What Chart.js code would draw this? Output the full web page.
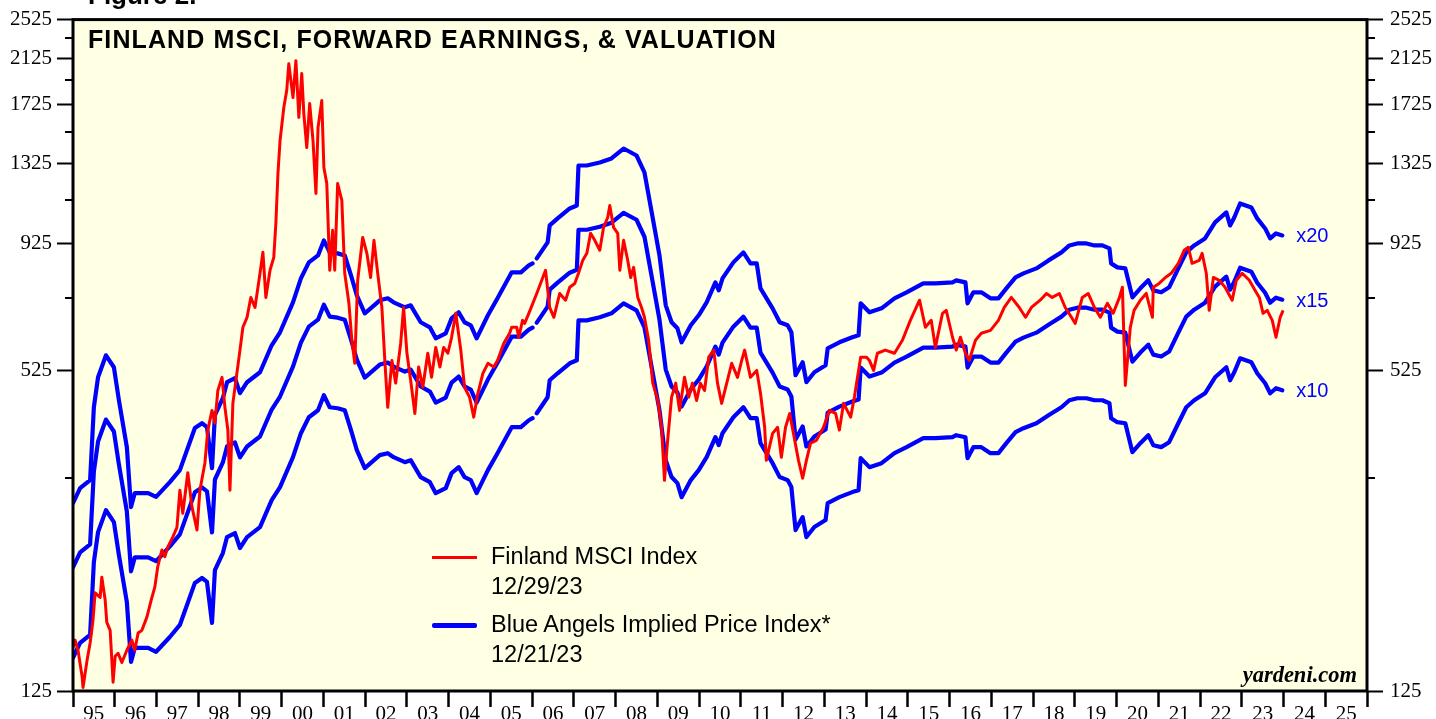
<!DOCTYPE html>
<html>
<head>
<meta charset="utf-8">
<title>Finland MSCI, Forward Earnings, & Valuation</title>
<script src="https://cdn.jsdelivr.net/npm/chart.js@4.4.1/dist/chart.umd.min.js"></script>
<style>
    html, body { margin: 0; padding: 0; background: #fff; overflow: hidden; }
    #wrap { position: relative; width: 1436px; height: 719px; }
    #chart { position: absolute; left: 0; top: 0; }
    .txt { position: absolute; font-family: 'Liberation Sans', Arial, sans-serif; color: #000; white-space: nowrap; line-height: 1; }
    #figure { left: 88px; top: -18px; font-size: 26px; font-weight: bold; }
    #title { left: 88px; top: 27px; font-size: 25px; font-weight: bold; letter-spacing: 1.1px; }
    .legend-line { position: absolute; left: 432px; width: 45px; }
    #legRed { top: 556px; height: 3px; background: #ff0000; }
    #legBlue { top: 623px; height: 5px; background: #0000ff; border-radius: 2px; }
    .legend-text { left: 491px; font-size: 23.5px; line-height: 29.5px; }
    #legRedText { top: 542px; }
    #legBlueText { top: 610px; }
    .tag { font-size: 20px; color: #0000ff; }
    #yardeni { right: 79px; top: 664px; font-family: 'Liberation Serif', 'Times New Roman', serif; font-size: 22.5px; font-weight: bold; font-style: italic; }
</style>
</head>
<body>
<div id="wrap">
    <canvas id="chart" width="1436" height="719"></canvas>
    <div class="txt" id="figure">Figure 2.</div>
    <div class="txt" id="title">FINLAND MSCI, FORWARD EARNINGS, &amp; VALUATION</div>
    <div class="legend-line" id="legRed"></div>
    <div class="txt legend-text" id="legRedText">Finland MSCI Index<br>12/29/23</div>
    <div class="legend-line" id="legBlue"></div>
    <div class="txt legend-text" id="legBlueText">Blue Angels Implied Price Index*<br>12/21/23</div>
    <div class="txt tag" id="tag20">x20</div>
    <div class="txt tag" id="tag15">x15</div>
    <div class="txt tag" id="tag10">x10</div>
    <div class="txt" id="yardeni">yardeni.com</div>
</div>
<script>
// ═══════════════════════════════════════════════════════════════
// Finland MSCI — forward earnings & valuation (log scale)
// ═══════════════════════════════════════════════════════════════

// ── Finland MSCI index (decimal years / index level) ─────────
const msciYears = [
    1995.00, 1995.05, 1995.12, 1995.22, 1995.24, 1995.34, 1995.41, 1995.48, 1995.53, 1995.65,
    1995.69, 1995.77, 1995.81, 1995.89, 1995.96, 1996.01, 1996.08, 1996.17, 1996.29, 1996.41,
    1996.48, 1996.56, 1996.65, 1996.77, 1996.89, 1996.96, 1997.03, 1997.13, 1997.20, 1997.27,
    1997.39, 1997.49, 1997.56, 1997.63, 1997.75, 1997.85, 1997.97, 1998.04, 1998.16, 1998.23,
    1998.33, 1998.40, 1998.47, 1998.57, 1998.64, 1998.71, 1998.76, 1998.83, 1999.00, 1999.07,
    1999.17, 1999.26, 1999.36, 1999.48, 1999.55, 1999.62, 1999.72, 1999.81, 1999.86, 1999.91,
    1999.96, 2000.05, 2000.12, 2000.17, 2000.27, 2000.34, 2000.41, 2000.48, 2000.53, 2000.60,
    2000.67, 2000.75, 2000.82, 2000.87, 2000.96, 2001.01, 2001.08, 2001.15, 2001.22, 2001.27,
    2001.34, 2001.44, 2001.51, 2001.61, 2001.68, 2001.75, 2001.82, 2001.94, 2002.04, 2002.13,
    2002.21, 2002.30, 2002.40, 2002.47, 2002.54, 2002.64, 2002.73, 2002.85, 2002.92, 2003.00,
    2003.09, 2003.19, 2003.28, 2003.38, 2003.50, 2003.59, 2003.69, 2003.79, 2003.88, 2003.98,
    2004.07, 2004.17, 2004.29, 2004.38, 2004.50, 2004.60, 2004.70, 2004.82, 2004.94, 2005.08,
    2005.17, 2005.32, 2005.46, 2005.51, 2005.63, 2005.68, 2005.77, 2005.82, 2005.92, 2006.11,
    2006.23, 2006.32, 2006.42, 2006.52, 2006.66, 2006.80, 2006.90, 2007.02, 2007.11, 2007.21,
    2007.31, 2007.40, 2007.50, 2007.62, 2007.71, 2007.81, 2007.86, 2007.95, 2008.05, 2008.10,
    2008.19, 2008.29, 2008.36, 2008.43, 2008.53, 2008.62, 2008.69, 2008.79, 2008.89, 2009.01,
    2009.10, 2009.17, 2009.24, 2009.34, 2009.44, 2009.53, 2009.65, 2009.75, 2009.84, 2009.94,
    2010.03, 2010.13, 2010.23, 2010.35, 2010.44, 2010.54, 2010.78, 2010.92, 2011.02, 2011.09,
    2011.23, 2011.38, 2011.47, 2011.57, 2011.61, 2011.76, 2011.88, 2011.97, 2012.07, 2012.17,
    2012.26, 2012.38, 2012.48, 2012.57, 2012.67, 2012.81, 2012.98, 2013.12, 2013.27, 2013.36,
    2013.46, 2013.63, 2013.72, 2013.87, 2014.01, 2014.08, 2014.18, 2014.27, 2014.46, 2014.68,
    2014.87, 2015.06, 2015.28, 2015.42, 2015.56, 2015.66, 2015.83, 2015.92, 2016.07, 2016.16,
    2016.26, 2016.38, 2016.47, 2016.62, 2016.76, 2016.98, 2017.17, 2017.31, 2017.48, 2017.67,
    2017.82, 2017.96, 2018.17, 2018.32, 2018.46, 2018.63, 2018.77, 2018.92, 2019.01, 2019.18,
    2019.32, 2019.47, 2019.61, 2019.78, 2019.92, 2020.07, 2020.14, 2020.21, 2020.33, 2020.42,
    2020.57, 2020.71, 2020.86, 2020.88, 2021.02, 2021.17, 2021.31, 2021.48, 2021.62, 2021.72,
    2021.81, 2021.98, 2022.05, 2022.15, 2022.22, 2022.32, 2022.46, 2022.60, 2022.77, 2022.87,
    2023.01, 2023.18, 2023.32, 2023.42, 2023.51, 2023.61, 2023.73, 2023.82, 2023.92, 2023.99
];
const msciValues = [
    152, 157, 150, 133, 127, 144, 155, 172, 194, 190,
    208, 188, 170, 164, 130, 146, 148, 142, 150, 157,
    150, 162, 164, 174, 190, 199, 218, 235, 228, 238,
    249, 260, 307, 277, 332, 285, 257, 307, 347, 402,
    439, 415, 480, 509, 445, 402, 307, 453, 575, 637,
    666, 728, 696, 811, 891, 728, 822, 871, 1014, 1268,
    1469, 1703, 1838, 2073, 1781, 2101, 1629, 1983, 1658, 1424,
    1734, 1469, 1159, 1557, 1757, 1302, 1212, 822, 983, 822,
    1212, 1124, 811, 709, 601, 542, 786, 952, 887, 796,
    940, 811, 696, 549, 445, 549, 496, 593, 696, 567,
    502, 433, 533, 487, 567, 509, 582, 533, 582, 567,
    609, 678, 575, 487, 466, 426, 474, 518, 542, 533,
    549, 593, 620, 637, 637, 609, 657, 648, 678, 741,
    786, 822, 696, 666, 741, 719, 762, 775, 811, 859,
    887, 970, 940, 899, 996, 1041, 1099, 996, 970, 822,
    940, 859, 796, 833, 728, 696, 666, 601, 496, 459,
    407, 321, 379, 466, 496, 439, 509, 466, 496, 459,
    496, 480, 557, 575, 496, 453, 542, 509, 549, 575,
    509, 525, 474, 407, 351, 396, 407, 356, 407, 433,
    396, 351, 324, 351, 379, 384, 407, 439, 433, 402,
    453, 426, 466, 557, 557, 549, 525, 567, 575, 567,
    601, 657, 719, 637, 657, 582, 678, 687, 609, 575,
    609, 567, 549, 601, 620, 628, 657, 696, 728, 696,
    666, 696, 719, 741, 728, 741, 696, 666, 648, 728,
    741, 696, 666, 709, 678, 728, 762, 491, 637, 687,
    719, 741, 666, 762, 775, 796, 811, 848, 899, 911,
    848, 859, 887, 811, 687, 796, 786, 762, 719, 786,
    811, 786, 751, 728, 678, 687, 657, 609, 666, 687
];

// ── Forward earnings (null = gap in the weekly series) ───────
const feYears = [
    1995.00, 1995.17, 1995.41, 1995.50, 1995.60, 1995.79, 1995.98, 1996.10, 1996.29, 1996.39,
    1996.48, 1996.80, 1996.99, 1997.32, 1997.56, 1997.92, 1998.09, 1998.21, 1998.33, 1998.40,
    1998.59, 1998.69, 1998.88, 1999.00, 1999.17, 1999.48, 1999.76, 1999.96, 2000.27, 2000.46,
    2000.65, 2000.87, 2001.01, 2001.15, 2001.34, 2001.51, 2001.66, 2001.80, 2001.99, 2002.13,
    2002.35, 2002.54, 2002.68, 2002.95, 2003.09, 2003.33, 2003.55, 2003.69, 2003.93, 2004.07,
    2004.24, 2004.38, 2004.53, 2004.67, 2004.94, 2005.17, 2005.51, 2005.73, 2005.92, 2006.01,
    2006.06, 2006.11, 2006.37, 2006.42, 2006.61, 2006.90, 2007.07, 2007.11, 2007.31, 2007.62,
    2007.90, 2008.19, 2008.50, 2008.69, 2008.89, 2009.05, 2009.20, 2009.34, 2009.48, 2009.58,
    2009.80, 2009.99, 2010.18, 2010.39, 2010.47, 2010.56, 2010.82, 2011.06, 2011.23, 2011.38,
    2011.47, 2011.76, 2011.93, 2012.12, 2012.21, 2012.31, 2012.48, 2012.57, 2012.76, 2013.03,
    2013.08, 2013.36, 2013.67, 2013.82, 2013.87, 2014.08, 2014.37, 2014.68, 2014.97, 2015.37,
    2015.66, 2016.07, 2016.16, 2016.38, 2016.43, 2016.57, 2016.76, 2016.98, 2017.17, 2017.36,
    2017.58, 2017.77, 2018.08, 2018.37, 2018.68, 2018.87, 2019.06, 2019.28, 2019.47, 2019.66,
    2019.83, 2019.87, 2020.02, 2020.21, 2020.38, 2020.57, 2020.76, 2020.88, 2021.07, 2021.26,
    2021.48, 2021.67, 2021.86, 2022.12, 2022.36, 2022.63, 2022.72, 2022.82, 2022.96, 2023.23,
    2023.37, 2023.56, 2023.68, 2023.82, 2023.97
];
const feValues = [
    14.50, 15.50, 16.07, 22.27, 25.46, 28.09, 26.63, 22.97, 18.62, 14.24,
    15.16, 15.16, 14.90, 15.92, 16.80, 20.28, 20.73, 20.37, 16.95, 21.48,
    23.18, 24.90, 25.35, 23.71, 24.90, 26.04, 29.38, 31.14, 35.61, 39.64,
    42.58, 43.93, 46.98, 44.53, 44.33, 43.93, 40.18, 36.74, 33.90, 34.66,
    35.93, 36.25, 35.61, 34.82, 35.13, 32.57, 31.84, 30.31, 31.00, 33.15,
    34.05, 32.57, 32.13, 30.31, 33.60, 36.25, 40.72, 40.72, 42.01, 42.39,
    null,  43.34, 46.56, 50.24, 51.84, 54.21, 54.94, 65.70, 65.70, 66.59,
    67.80, 70.89, 68.71, 63.68, 51.84, 43.93, 35.13, 32.57, 31.70, 29.77,
    32.13, 33.60, 35.61, 38.94, 37.57, 39.64, 42.58, 44.53, 42.39, 42.39,
    37.91, 34.66, 32.57, 32.13, 31.14, 25.69, 27.23, 24.90, 26.04, 26.87,
    28.99, 29.77, 30.45, 30.72, 35.45, 34.05, 34.66, 36.25, 37.24, 38.77,
    38.77, 38.94, 39.29, 38.94, 35.45, 37.24, 37.24, 36.25, 36.25, 37.91,
    39.82, 40.54, 41.45, 42.96, 44.53, 45.94, 46.35, 46.35, 45.94, 45.94,
    45.33, 42.39, 41.64, 41.45, 36.41, 37.91, 39.29, 37.57, 37.24, 38.08,
    41.45, 44.53, 45.94, 47.40, 50.92, 53.25, 50.24, 52.07, 55.43, 54.45,
    51.84, 49.57, 47.40, 48.48, 48.04
];

// P/E multiples for the Blue Angels bands
const peMultiples = [10, 15, 20];

// ── Axis ticks ───────────────────────────────────────────────
const yMajorTicks = [125, 525, 925, 1325, 1725, 2125, 2525];
const yMinorTicks = [325, 725, 1125, 1525, 1925, 2325];
const yearLabels = ['95', '96', '97', '98', '99', '00', '01', '02', '03', '04', '05',
    '06', '07', '08', '09', '10', '11', '12', '13', '14', '15', '16', '17',
    '18', '19', '20', '21', '22', '23', '24', '25'];
const firstYear = 1995;

const RED = '#ff0000';
const BLUE = '#0000ff';

// year boundaries get a tick mark, mid-years carry the label
const xTickValues = [];
for (let i = 0; i <= yearLabels.length; i++) {
    xTickValues.push(firstYear + i);
    if (i < yearLabels.length) xTickValues.push(firstYear + i + 0.5);
}

// ── Plugins ──────────────────────────────────────────────────
const plotFrame = {
    id: 'plotFrame',
    beforeDraw(chart) {
        const { ctx, chartArea: a } = chart;
        ctx.save();
        ctx.fillStyle = '#ffffe3';
        ctx.fillRect(a.left, a.top, a.right - a.left, a.bottom - a.top);
        ctx.restore();
    },
    afterDraw(chart) {
        const { ctx, chartArea: a, scales } = chart;
        ctx.save();
        ctx.strokeStyle = '#000';
        ctx.lineWidth = 3;
        ctx.strokeRect(a.left, a.top, a.right - a.left, a.bottom - a.top);

        // short minor ticks on both value axes
        ctx.lineWidth = 2;
        yMinorTicks.forEach(v => {
            const y = Math.round(scales.y.getPixelForValue(v));
            ctx.beginPath();
            ctx.moveTo(a.left - 8, y);
            ctx.lineTo(a.left, y);
            ctx.moveTo(a.right, y);
            ctx.lineTo(a.right + 8, y);
            ctx.stroke();
        });
        ctx.restore();
    }
};

// puts the x10 / x15 / x20 tags next to the end of each band
const bandTags = {
    id: 'bandTags',
    afterDraw(chart) {
        peMultiples.forEach((m, i) => {
            const meta = chart.getDatasetMeta(i + 1);
            const last = meta.data[meta.data.length - 1];
            const el = document.getElementById('tag' + m);
            if (!last || !el) return;
            el.style.left = (last.x + 14) + 'px';
            el.style.top = (last.y - el.offsetHeight / 2) + 'px';
        });
    }
};

// ── Chart ────────────────────────────────────────────────────
Chart.defaults.font.family = "'Liberation Serif', 'Times New Roman', serif";
Chart.defaults.color = '#000';

const msciPoints = msciYears.map((x, i) => ({ x, y: msciValues[i] }));

const bandSets = peMultiples.map(m => ({
    label: 'x' + m,
    data: feYears.map((x, i) => ({ x, y: feValues[i] === null ? null : feValues[i] * m })),
    borderColor: BLUE,
    borderWidth: 4.2,
    pointRadius: 0,
    tension: 0,
    spanGaps: false,
    borderJoinStyle: 'round',
    borderCapStyle: 'round'
}));

const valueAxis = (position, width, pad) => ({
    type: 'logarithmic',
    position,
    min: 125,
    max: 2525,
    afterBuildTicks: s => { s.ticks = yMajorTicks.map(v => ({ value: v })); },
    afterFit: s => { s.width = width; },
    grid: { drawOnChartArea: false, tickLength: 16, tickWidth: 2, tickColor: '#000' },
    border: { display: false },
    ticks: {
        callback: v => String(v),
        font: { size: 21 },
        color: '#000',
        padding: pad
    }
});

new Chart(document.getElementById('chart'), {
    type: 'line',
    data: {
        datasets: [
            {
                label: 'Finland MSCI Index',
                data: msciPoints,
                borderColor: RED,
                borderWidth: 3,
                pointRadius: 0,
                tension: 0,
                borderJoinStyle: 'round'
            },
            ...bandSets
        ]
    },
    options: {
        responsive: false,
        animation: false,
        devicePixelRatio: 1,
        layout: { padding: { top: 19, left: 0, right: 0, bottom: 0 } },
        plugins: {
            legend: { display: false },
            tooltip: { enabled: false }
        },
        scales: {
            x: {
                type: 'linear',
                min: firstYear,
                max: firstYear + yearLabels.length,
                afterBuildTicks: s => { s.ticks = xTickValues.map(v => ({ value: v })); },
                afterFit: s => { s.height = 28; },
                grid: {
                    drawOnChartArea: false,
                    tickLength: 16,
                    tickWidth: 2.5,
                    tickColor: ctx => Number.isInteger(ctx.tick && ctx.tick.value) ? '#000' : 'rgba(0,0,0,0)'
                },
                border: { display: false },
                ticks: {
                    autoSkip: false,
                    maxRotation: 0,
                    padding: -5,
                    font: { size: 21 },
                    color: '#000',
                    callback: v => Number.isInteger(v) ? '' : yearLabels[Math.floor(v) - firstYear]
                }
            },
            y: valueAxis('left', 73, 5),
            y2: valueAxis('right', 69, 7)
        }
    },
    plugins: [plotFrame, bandTags]
});
</script>
</body>
</html>
